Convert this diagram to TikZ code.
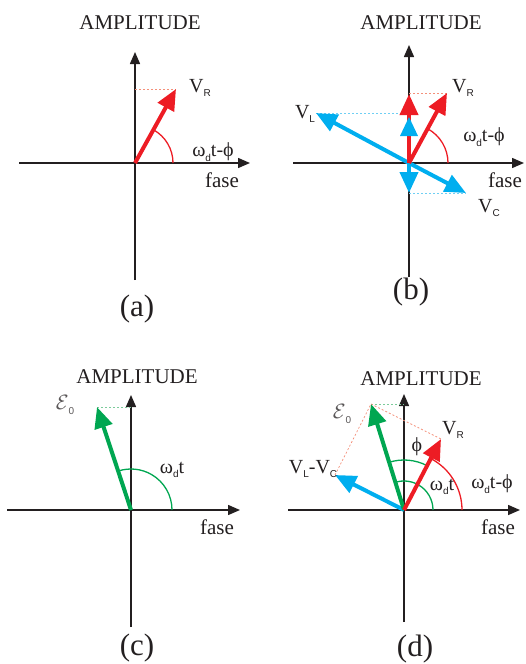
\documentclass[tikz,border=0pt]{standalone}
\usepackage{fontspec}
\setmainfont{Liberation Serif}
\newfontfamily\subf{Liberation Sans}
\usetikzlibrary{arrows.meta}
\definecolor{vr}{HTML}{ED1C24}
\definecolor{vb}{HTML}{00AEEF}
\definecolor{vg}{HTML}{00A651}
\definecolor{txt}{HTML}{231F20}
\definecolor{lr}{HTML}{F4907A}
\definecolor{lb}{HTML}{6FCFF4}
\definecolor{lg}{HTML}{7CCB9B}
\newcommand{\sbs}[1]{\raisebox{-0.5ex}{\subf\fontsize{10}{10}\selectfont #1}}
\begin{document}
\begin{tikzpicture}[x=1pt,y=-1pt,
  axis/.style={line width=1.5pt, draw=txt, -{Triangle[length=12pt,width=10pt]}},
  vec/.style={line width=4pt, -{Triangle[length=21pt,width=18pt]}},
  proj/.style={line width=0.7pt, dash pattern=on 2pt off 2pt},
  ang/.style={line width=1.3pt},
  lbl/.style={font=\fontsize{20}{20}\selectfont, text=txt, inner sep=0pt},
  big/.style={font=\fontsize{21}{21}\selectfont, text=txt, inner sep=0pt},
  captxt/.style={font=\fontsize{31}{31}\selectfont, text=txt, inner sep=0pt}]
\path[use as bounding box] (0,0) rectangle (526,664);

% ---------- (a) ----------
\coordinate (oa) at (135,163);
\coordinate (ra) at (176,89);
\draw[axis] (135,280) -- (135,52);
\draw[axis] (19,163) -- (250,163);
\draw[proj, draw=lr] (135,89) -- (ra);
\draw[ang, vr] ([xshift=38pt]oa) arc[start angle=0, end angle=-61, radius=38];
\draw[vec, vr] (oa) -- (ra);
\node[big] (ampa) at (140,23) {AMPLITUDE};
\node[lbl] (vra) at (200,88) {V\sbs{R}};
\node[lbl] (wa) at (213,152) {ω\sbs{d}t-ϕ};
\node[big] (fa) at (222,180) {fase};
\node[captxt] (ca) at (137,309) {(a)};

% ---------- (b) ----------
\coordinate (ob) at (409,163);
\coordinate (rb) at (447,93);
\coordinate (lb) at (316,113);
\coordinate (cb) at (466,193);
\draw[axis] (409,277) -- (409,45);
\draw[axis] (293,163) -- (524,163);
\draw[proj, draw=lr] (409,93) -- (rb);
\draw[proj, draw=lb] (lb) -- (409,113);
\draw[proj, draw=lb] (409,193) -- (cb);
\draw[ang, vr] ([xshift=39pt]ob) arc[start angle=0, end angle=-61.5, radius=39];
\draw[vec, vb] (ob) -- (lb);
\draw[vec, vb] (ob) -- (cb);
\draw[vec, vb] (ob) -- (409,193);
\draw[vec, vr] (ob) -- (409,94);
\fill[vb] (409,117) -- (400,136) -- (418,136) -- cycle;
\draw[vec, vr] (ob) -- (rb);
\node[big] (ampb) at (421,23) {AMPLITUDE};
\node[lbl] (vrb) at (463,88) {V\sbs{R}};
\node[lbl] (vlb) at (305,114) {V\sbs{L}};
\node[lbl] (vcb) at (489,208) {V\sbs{C}};
\node[lbl] (wb) at (484,137) {ω\sbs{d}t-ϕ};
\node[big] (fb) at (505,180) {fase};
\node[captxt] (cbx) at (411,292) {(b)};

% ---------- (c) ----------
\coordinate (oc) at (131,510);
\coordinate (gc) at (97,407);
\draw[axis] (131,627) -- (131,395);
\draw[axis] (7,510) -- (240,510);
\draw[proj, draw=lg] (gc) -- (131,407);
\draw[ang, vg] ([xshift=41pt]oc) arc[start angle=0, end angle=-108.3, radius=41];
\draw[vec, vg] (oc) -- (gc);
\node[big] (ampc) at (137,377) {AMPLITUDE};
\node[lbl, text=txt!75] (ec) at (65,405) {$\mathcal{E}$\sbs{0}};
\node[lbl] (wc) at (172,470) {ω\sbs{d}t};
\node[big] (fc) at (217,527) {fase};
\node[captxt] (ccx) at (137,648) {(c)};

% ---------- (d) ----------
\coordinate (od) at (404,510);
\coordinate (gd) at (371,404);
\coordinate (rd) at (441,439);
\coordinate (bd) at (335,475);
\draw[axis] (404,622) -- (404,394);
\draw[axis] (288,510) -- (520,510);
\draw[proj, draw=lg] (gd) -- (404,404);
\draw[proj, draw=lr] (gd) -- (rd);
\draw[proj, draw=lr] (bd) -- (gd);
\draw[ang, vg] ([xshift=29pt]od) arc[start angle=0, end angle=-107.3, radius=29];
\draw[ang, vg] (od) ++(-62.5:50) arc[start angle=-62.5, end angle=-107.3, radius=50];
\draw[ang, vr] ([xshift=58pt]od) arc[start angle=0, end angle=-62.5, radius=58];
\draw[vec, vb] (od) -- (bd);
\draw[vec, vg] (od) -- (gd);
\draw[vec, vr] (od) -- (rd);
\node[big] (ampd) at (421,379) {AMPLITUDE};
\node[lbl, text=txt!75] (ed) at (342,414) {$\mathcal{E}$\sbs{0}};
\node[lbl] (vrd) at (453,430) {V\sbs{R}};
\node[lbl] (phd) at (417,447) {ϕ};
\node[lbl] (vld) at (313,469) {V\sbs{L}-V\sbs{C}};
\node[lbl] (wd) at (442,487) {ω\sbs{d}t};
\node[lbl] (wpd) at (492,484) {ω\sbs{d}t-ϕ};
\node[big] (fd) at (498,527) {fase};
\node[captxt] (cdx) at (415,649) {(d)};
\end{tikzpicture}
\end{document}
